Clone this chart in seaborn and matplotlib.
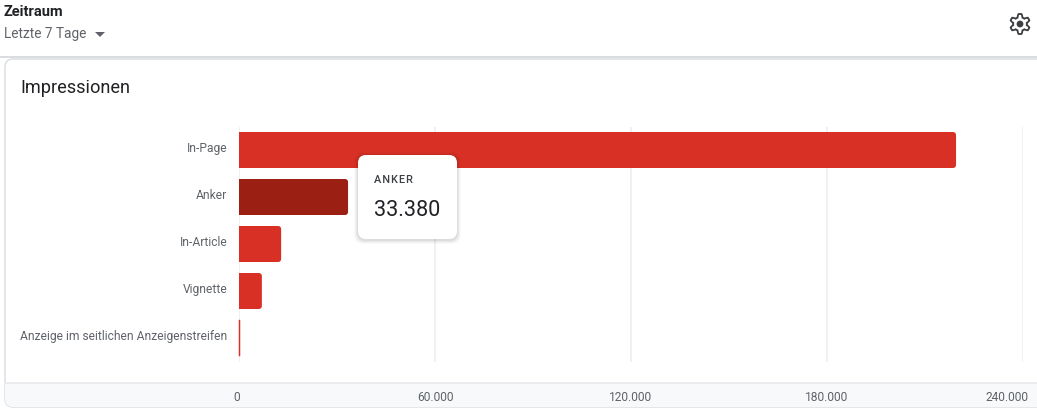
# -*- coding: utf-8 -*-
"""
Impressionen by ad format, horizontal bars with hover tooltip
"""
import numpy as np
import pandas as pd
import seaborn as sns
import matplotlib.pyplot as plt
from matplotlib.patches import FancyBboxPatch, Polygon, Circle, Rectangle
from matplotlib.transforms import IdentityTransform, ScaledTranslation

# chart values
formats = ['In-Page', 'Anker', 'In-Article', 'Vignette', 'Anzeige im seitlichen Anzeigenstreifen']
impressions = [219500, 33380, 12900, 7000, 300]
bar_colors = ['#D93025', '#9C1F14', '#D93025', '#D93025', '#D93025']
x_ticks = [0, 60000, 120000, 180000, 240000]
x_tick_labels = ['0', '60.000', '120.000', '180.000', '240.000']

W, H = 1037, 409
sns.set_theme(style='white')
plt.rcParams['font.family'] = ['Roboto', 'DejaVu Sans']
GREY = '#5f6368'
DARK = '#202124'

fig = plt.figure(figsize=(W / 100, H / 100), dpi=100, facecolor='white')


def pixel_axes(z):
    # overlay axes in image pixels, y going down
    a = fig.add_axes([0, 0, 1, 1], zorder=z)
    a.set_xlim(0, W)
    a.set_ylim(H, 0)
    a.axis('off')
    a.patch.set_alpha(0)
    return a


bg = pixel_axes(0)
top = pixel_axes(3)

# header
bg.text(4, 12.5, 'Zeitraum', fontsize=10.5, fontweight='bold', color=DARK, va='center')
bg.text(4, 34, 'Letzte 7 Tage', fontsize=9.8, color=GREY, va='center')
bg.add_patch(Polygon([[95, 32], [105, 32], [100, 37]], color=GREY, lw=0))
bg.plot([0, W], [57, 57], color='#dadce0', lw=1.4, solid_capstyle='butt')

# gear icon
angles = np.linspace(0, 2 * np.pi, 240, endpoint=False)
radius = 8.4 + 1.6 * np.clip(1.7 * np.cos(6 * angles), -1, 1)
gear = np.column_stack([1020 + radius * np.sin(angles), 24 + radius * np.cos(angles)])
bg.add_patch(Polygon(gear, closed=True, fc='white', ec='#3c4043', lw=1.3))
bg.add_patch(Circle((1020, 24), 3.4, fc='#3c4043', ec='none'))

# card with footer band
bg.add_patch(FancyBboxPatch((5, 59), W + 30, 348, boxstyle='round,pad=0,rounding_size=8',
                            fc='white', ec='#dadce0', lw=1))
footer_clip = FancyBboxPatch((5, 59), W + 30, 348, boxstyle='round,pad=0,rounding_size=8',
                             transform=bg.transData, fc='none', ec='none')
bg.add_patch(footer_clip)
footer = Rectangle((5, 383), W, 24, fc='#f8f9fa', ec='none')
bg.add_patch(footer)
footer.set_clip_path(footer_clip)
bg.plot([5, W], [382.5, 382.5], color='#e8eaed', lw=1.3, solid_capstyle='butt')
bg.text(20.5, 88, 'Impressionen', fontsize=13.1, color=DARK, va='center')

# bar chart
ax = fig.add_axes([239 / W, 1 - 361.5 / H, 784 / W, 235 / H], zorder=1)
ax.patch.set_alpha(0)
df = pd.DataFrame({'Format': formats, 'Impressionen': impressions})
sns.barplot(data=df, x='Impressionen', y='Format', hue='Format', palette=bar_colors,
            saturation=1, width=0.766, legend=False, ax=ax, orient='h')
ax.set_xlim(0, 240000)
ax.set_xlabel('')
ax.set_ylabel('')
ax.set_xticks(x_ticks)
ax.set_xticklabels(x_tick_labels)
sns.despine(ax=ax, left=True, bottom=True)
ax.grid(axis='x', color='#eeeeee', lw=1.2)
ax.grid(axis='y', visible=False)
ax.set_axisbelow(True)
ax.tick_params(axis='x', length=0, pad=21.5, labelsize=8.65, labelcolor=GREY)
ax.tick_params(axis='y', length=0, pad=8.4, labelsize=8.65, labelcolor=GREY)
for label in ax.get_yticklabels():
    label.set_transform(label.get_transform() + ScaledTranslation(0, 3.2 / 100, fig.dpi_scale_trans))
ticks_x = ax.get_xticklabels()
ticks_x[0].set_transform(ticks_x[0].get_transform() + ScaledTranslation(-2 / 100, 0, fig.dpi_scale_trans))
ticks_x[-1].set_ha('right')
ticks_x[-1].set_transform(ticks_x[-1].get_transform() + ScaledTranslation(5 / 100, 0, fig.dpi_scale_trans))

# round the right corners of the bars, keeping seaborn's geometry
fig.canvas.draw()
corner = 3
for bar in list(ax.patches):
    box = bar.get_window_extent()
    if box.width < 2 * corner:
        # too thin to round, keep it as a hairline that stays visible
        bar.set_edgecolor(bar.get_facecolor())
        bar.set_linewidth(0.35)
        bar.set_clip_on(False)
        bar.set_zorder(5)
        continue
    rounded = FancyBboxPatch((box.x0 - corner, box.y0), box.width + corner, box.height,
                             boxstyle=f'round,pad=0,rounding_size={corner}',
                             transform=IdentityTransform(), fc=bar.get_facecolor(), ec='none')
    ax.add_patch(rounded)
    bar.set_visible(False)

# tooltip with soft shadow
for grow, alpha in [(4, 0.02), (3, 0.03), (2, 0.04), (1, 0.05)]:
    top.add_patch(FancyBboxPatch((358 - grow, 156 - grow), 99 + 2 * grow, 84 + 2 * grow,
                                 boxstyle='round,pad=0,rounding_size=9', fc='black', ec='none', alpha=alpha))
top.add_patch(FancyBboxPatch((358, 155), 99, 84, boxstyle='round,pad=0,rounding_size=8',
                             fc='white', ec='none'))
top.text(374, 180, 'A N K E R'.replace(' ', '\u200a'), fontsize=7.8, fontweight='medium', color='#3c4043', va='center')
top.text(374, 210, '33.380', fontsize=15.6, color=DARK, va='center')

fig.savefig('out.png', dpi=100)
